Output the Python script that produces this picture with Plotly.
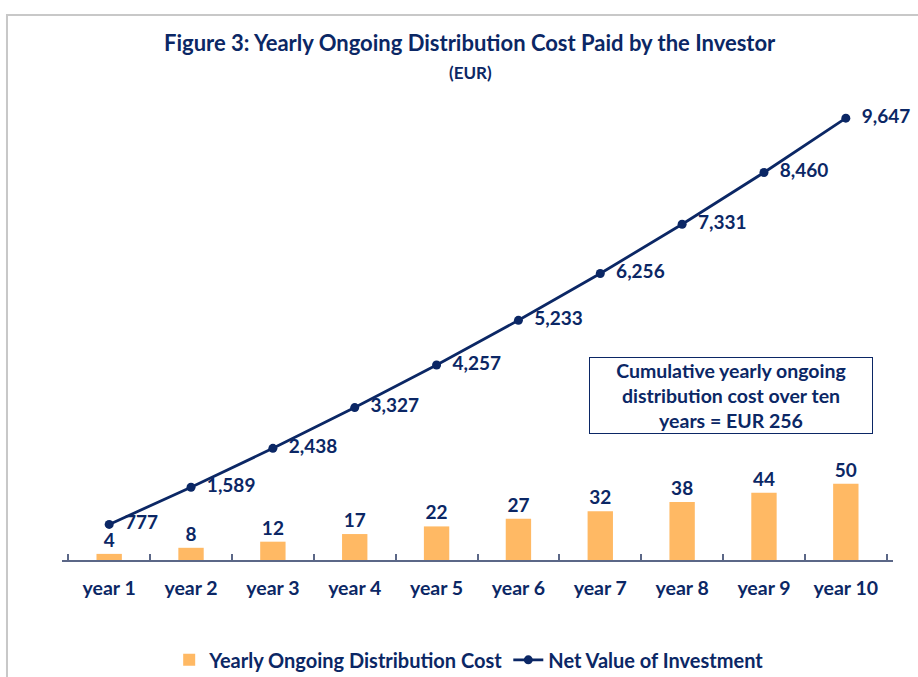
import plotly.graph_objects as go

years = ["year 1", "year 2", "year 3", "year 4", "year 5",
         "year 6", "year 7", "year 8", "year 9", "year 10"]
distribution_cost = [4, 8, 12, 17, 22, 27, 32, 38, 44, 50]
net_value = [777, 1589, 2438, 3327, 4257, 5233, 6256, 7331, 8460, 9647]
cumulative_cost = 256

NAVY = "#0B2765"
ORANGE = "#FFB964"
FONT = "Lato"

fig = go.Figure()

fig.add_trace(go.Bar(
    x=years, y=distribution_cost, yaxis="y2",
    name="Yearly Ongoing Distribution Cost",
    marker=dict(color=ORANGE, line=dict(width=0)),
    width=0.31,
    text=[f"{v:,}" for v in distribution_cost],
    textposition="outside", cliponaxis=False,
    textfont=dict(family=FONT, size=19, color=NAVY, weight="bold"),
))

fig.add_trace(go.Scatter(
    x=years, y=net_value, yaxis="y",
    name="Net Value of Investment",
    mode="lines+markers+text",
    line=dict(color=NAVY, width=2.8),
    marker=dict(color=NAVY, size=9),
    text=[f"  {v:,}" for v in net_value],
    textposition="middle right", cliponaxis=False,
    textfont=dict(family=FONT, size=19, color=NAVY, weight="bold"),
))

fig.update_layout(
    width=918, height=677,
    paper_bgcolor="white", plot_bgcolor="white",
    margin=dict(l=62, r=25, t=102, b=117, autoexpand=False),
    font=dict(family=FONT, color=NAVY),
    showlegend=True,
    legend=dict(orientation="h", x=0.49, xanchor="center",
                y=-0.218, yanchor="middle",
                font=dict(family=FONT, size=20, color=NAVY, weight="bold"),
                itemwidth=30, traceorder="normal"),
    xaxis=dict(
        showline=True, linecolor="#5B6787", linewidth=2,
        ticks="inside", tickson="boundaries", ticklen=6,
        tickcolor="#5B6787", tickwidth=1.5,
        tickfont=dict(family=FONT, size=19.5, color=NAVY, weight="bold"),
        ticklabelstandoff=10,
        showgrid=False, zeroline=False, automargin=False,
    ),
    yaxis=dict(range=[0, 10000], visible=False, showgrid=False),
    yaxis2=dict(range=[0, 300], overlaying="y", side="right",
                visible=False, showgrid=False),
    bargap=0.69,
    shapes=[
        dict(type="rect", xref="paper", yref="paper",
             x0=-0.0662, x1=1.2, y0=-0.5, y1=1.19,
             line=dict(color="#C8C8C8", width=2), layer="below"),
    ],
    annotations=[
        dict(text="Figure 3: Yearly Ongoing Distribution Cost Paid by the Investor",
             xref="paper", yref="paper", x=0.491, y=1.129, showarrow=False,
             xanchor="center", yanchor="middle",
             font=dict(family=FONT, size=22, color=NAVY, weight="bold")),
        dict(text="(EUR)",
             xref="paper", yref="paper", x=0.491, y=1.0655, showarrow=False,
             xanchor="center", yanchor="middle",
             font=dict(family=FONT, size=17, color=NAVY, weight="bold")),
        dict(text=("Cumulative yearly ongoing<br>distribution cost over ten<br>"
                   f"years = EUR {cumulative_cost}"),
             xref="paper", yref="paper", x=0.805, y=0.359, showarrow=False,
             xanchor="center", yanchor="middle",
             width=278, height=71,
             bordercolor=NAVY, borderwidth=1, borderpad=2, bgcolor="white",
             font=dict(family=FONT, size=19.5, color=NAVY, weight="bold")),
    ],
)

fig.write_html("out.html")
